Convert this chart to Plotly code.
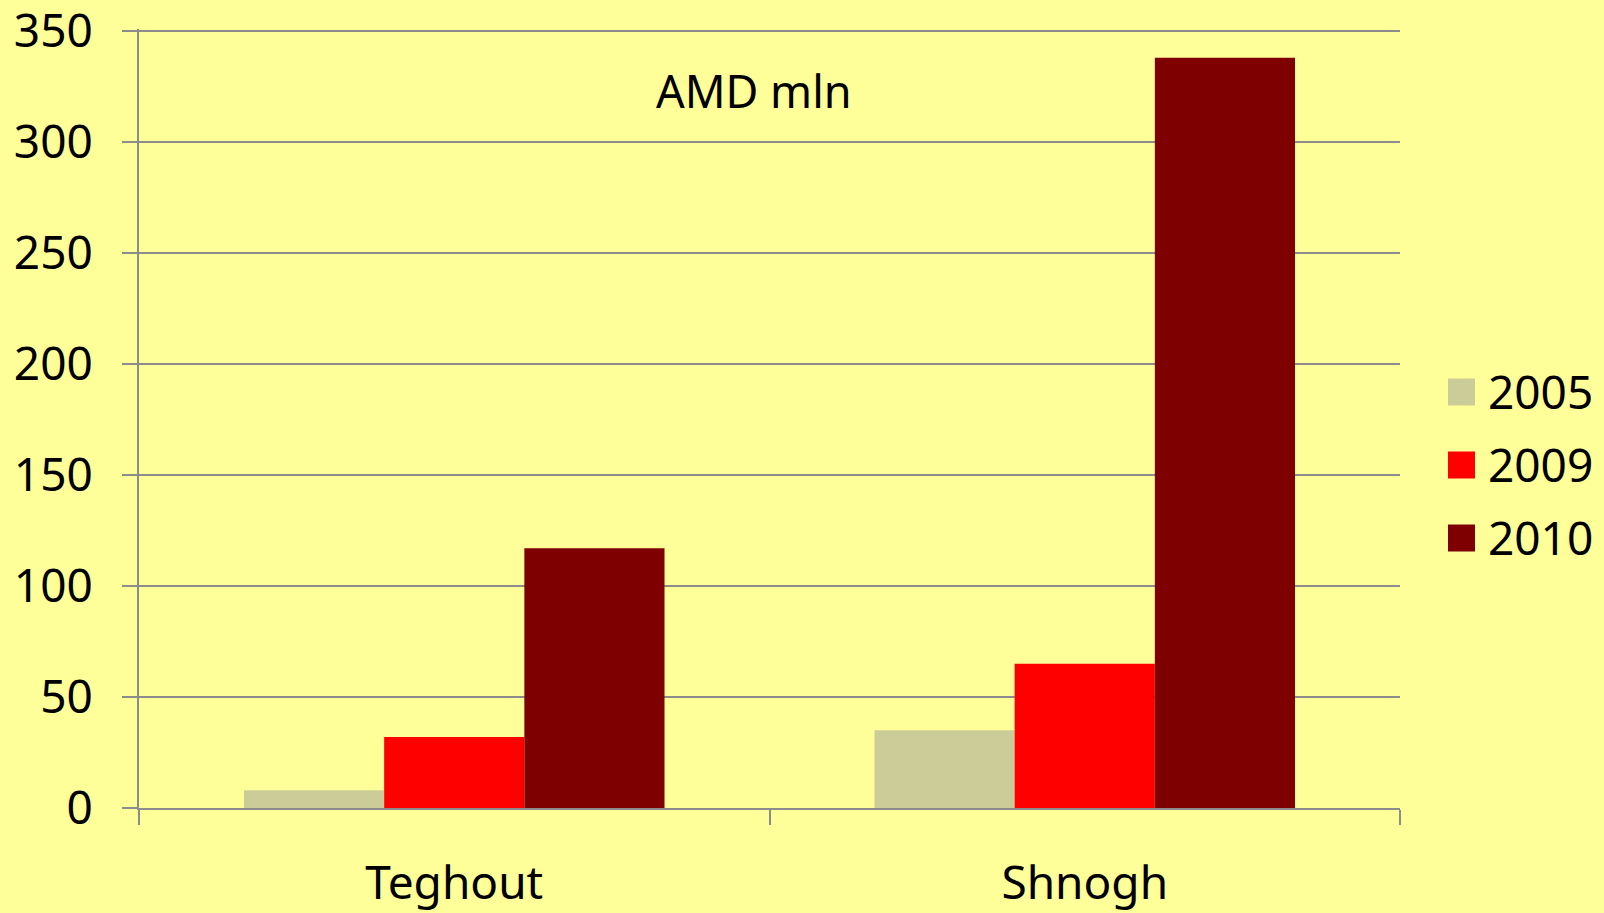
import plotly.graph_objects as go

categories = ["Teghout", "Shnogh"]
years = ["2005", "2009", "2010"]
values_2005 = [8, 35]
values_2009 = [32, 65]
values_2010 = [117, 338]
colors = ["#CCCC99", "#FF0000", "#7F0000"]
y_ticks = [0, 50, 100, 150, 200, 250, 300, 350]

series = [values_2005, values_2009, values_2010]

FONT = "Noto Sans"
W, H = 1604, 913
ML, MR, MT, MB = 139, 204, 29, 105
PW, PH = W - ML - MR, H - MT - MB

fig = go.Figure()
for name, vals, col in zip(years, series, colors):
    fig.add_trace(go.Bar(x=categories, y=vals, name=name, showlegend=False,
                         marker=dict(color=col, line=dict(width=0))))

# Legend drawn as swatches + labels (large square keys like the original)
def px_x(px):
    return (px - ML) / PW

def px_y(py):
    return (H - MB - py) / PH

shapes = []
annotations = [dict(text="AMD mln", x=px_x(754), y=px_y(90), xref="paper", yref="paper",
                    showarrow=False, font=dict(size=45, family=FONT),
                    xanchor="center", yanchor="middle")]
for i, (name, col) in enumerate(zip(years, colors)):
    cy = 392 + i * 73
    shapes.append(dict(type="rect", xref="paper", yref="paper",
                       x0=px_x(1448), x1=px_x(1475),
                       y0=px_y(cy + 13.5), y1=px_y(cy - 13.5),
                       fillcolor=col, line=dict(width=0)))
    annotations.append(dict(text=name, x=px_x(1486), y=px_y(cy - 1),
                            xref="paper", yref="paper", showarrow=False,
                            xanchor="left", yanchor="middle",
                            font=dict(size=46, family=FONT, color="black")))

fig.update_layout(
    width=W, height=H,
    paper_bgcolor="#FFFF99", plot_bgcolor="#FFFF99",
    margin=dict(l=ML, r=MR, t=MT, b=MB, autoexpand=False),
    barmode="group", bargap=0.333, bargroupgap=0,
    font=dict(family=FONT, size=46, color="black"),
    showlegend=False,
    shapes=shapes,
    annotations=annotations,
)
fig.update_xaxes(
    automargin=False,
    showline=True, linecolor="#8C8C8C", linewidth=2,
    ticks="outside", tickson="boundaries", ticklen=15, tickcolor="#8C8C8C", tickwidth=2,
    showgrid=False, tickfont=dict(size=46, family=FONT), ticklabelstandoff=34,
    ticklabeloverflow="allow",
)
fig.update_yaxes(
    automargin=False,
    range=[0, 351], tickvals=y_ticks,
    showline=True, linecolor="#8C8C8C", linewidth=2,
    ticks="outside", ticklen=15, tickcolor="#8C8C8C", tickwidth=2,
    showgrid=True, gridcolor="#8C8C8C", gridwidth=2, zeroline=False,
    tickfont=dict(size=46, family=FONT), ticklabelstandoff=20,
    ticklabeloverflow="allow",
)

fig.write_html("out.html", config={"displayModeBar": False},
               post_script="document.body.style.margin='0';document.body.style.overflow='hidden';")
